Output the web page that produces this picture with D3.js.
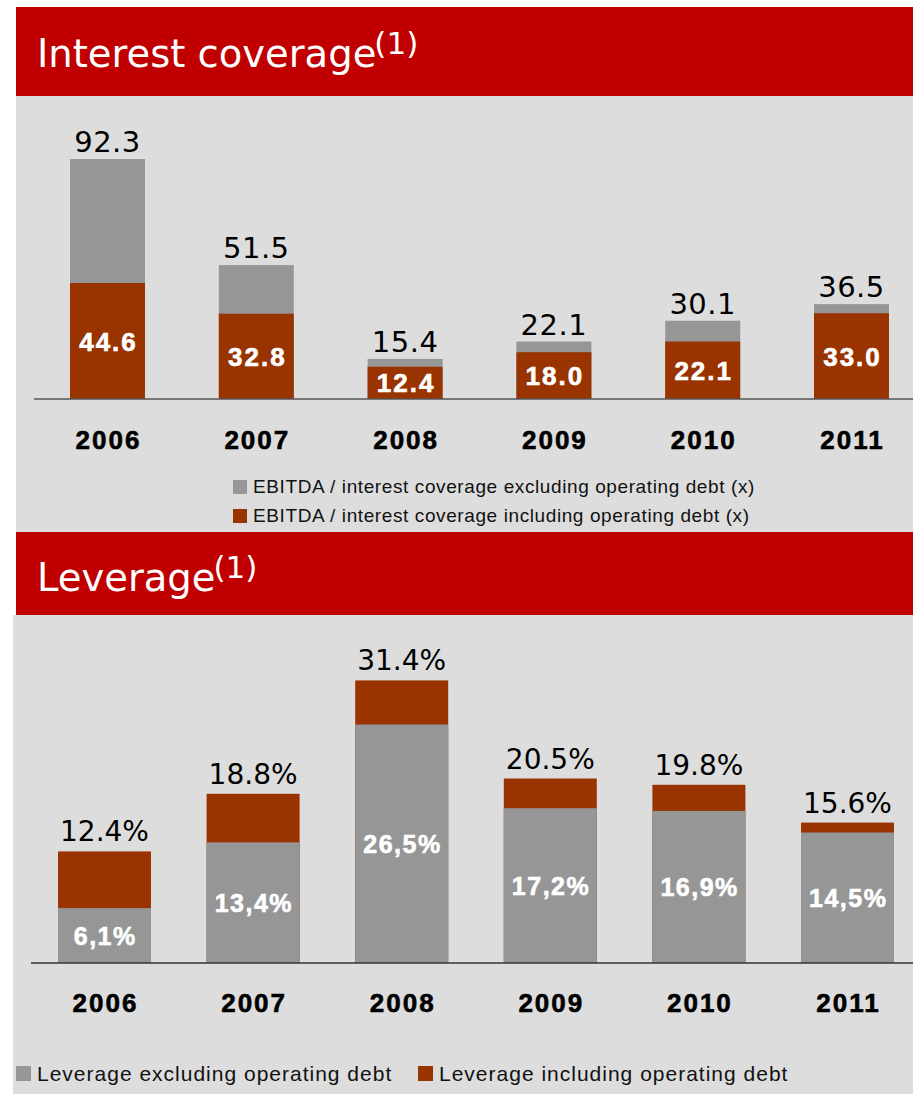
<!DOCTYPE html>
<html>
<head>
<meta charset="utf-8">
<script src="https://cdn.jsdelivr.net/npm/d3@7"></script>
<style>
  body { margin: 0; background: #fff; }
  svg { display: block; }
</style>
</head>
<body>
<svg id="chart" width="913" height="1094"></svg>
<script>
// data
const years = ["2006", "2007", "2008", "2009", "2010", "2011"];

const coverageTotal = [92.3, 51.5, 15.4, 22.1, 30.1, 36.5];   // excluding operating debt
const coverageInc   = [44.6, 32.8, 12.4, 18.0, 22.1, 33.0];   // including operating debt
const coverageLegend = [
    "EBITDA / interest coverage excluding operating debt (x)",
    "EBITDA / interest coverage including operating debt (x)"
];

const leverageExc   = [6.1, 13.4, 26.5, 17.2, 16.9, 14.5];
const leverageTotal = [12.4, 18.8, 31.4, 20.5, 19.8, 15.6];
const leverageLegend = ["Leverage excluding operating debt", "Leverage including operating debt"];

const RED_TITLE = "#c00000";
const PANEL = "#dddddd";
const GREY = "#969696";
const BROWN = "#993300";

const svg = d3.select("#chart");

// panels + title bars
svg.append("rect").attr("x", 16).attr("y", 7).attr("width", 897).attr("height", 89).attr("fill", RED_TITLE);
svg.append("rect").attr("x", 16).attr("y", 96).attr("width", 897).attr("height", 436).attr("fill", PANEL);
svg.append("rect").attr("x", 16).attr("y", 532).attr("width", 897).attr("height", 83).attr("fill", RED_TITLE);
svg.append("rect").attr("x", 13).attr("y", 615).attr("width", 900).attr("height", 479).attr("fill", PANEL);

function title(txt, x, y) {
    let t = svg.append("text").attr("x", x).attr("y", y)
        .style("font-family", "DejaVu Sans").style("font-size", "38.5px").attr("fill", "#fff");
    t.append("tspan").text(txt);
    t.append("tspan").attr("dx", -2).attr("dy", -13).style("font-size", "31px").text("(1)");
}
title("Interest coverage", 37, 67);
title("Leverage", 37, 591);

// bold label helper
function boldText(g, x, y, txt, size, spacing, color) {
    return g.append("text").attr("x", x + spacing / 2).attr("y", y)
        .attr("text-anchor", "middle").style("font-family", "Liberation Sans, Arial").style("font-weight", "bold")
        .style("font-size", size + "px").style("letter-spacing", spacing + "px")
        .attr("fill", color).attr("stroke", color).attr("stroke-width", 0.6)
        .text(txt);
}

// ---- top chart: interest coverage
const x1 = d3.scalePoint().domain(years).range([107.5, 851.5]);
const y1 = d3.scaleLinear().domain([0, 100]).range([399, 139]);
const bw1 = 75;

const g1 = svg.append("g");
years.forEach((yr, i) => {
    let cx = x1(yr);
    g1.append("rect").attr("x", cx - bw1 / 2).attr("y", y1(coverageTotal[i]))
        .attr("width", bw1).attr("height", y1(0) - y1(coverageTotal[i])).attr("fill", GREY);
    g1.append("rect").attr("x", cx - bw1 / 2).attr("y", y1(coverageInc[i]))
        .attr("width", bw1).attr("height", y1(0) - y1(coverageInc[i])).attr("fill", BROWN);

    g1.append("text").attr("x", cx).attr("y", y1(coverageTotal[i]) - 7)
        .attr("text-anchor", "middle").style("font-family", "DejaVu Sans").style("font-size", "29px")
        .style("letter-spacing", "0.5px")
        .attr("fill", "#000").text(coverageTotal[i].toFixed(1));

    let mid = (y1(coverageInc[i]) + y1(0)) / 2;
    boldText(g1, cx, mid + 9.5, coverageInc[i].toFixed(1), 26, 2, "#fff");
    boldText(g1, cx, 449, yr, 26, 2, "#000");
});
g1.append("line").attr("x1", 34).attr("x2", 913).attr("y1", y1(0)).attr("y2", y1(0))
    .attr("stroke", "#555").attr("stroke-width", 1.5);

// legend top
[GREY, BROWN].forEach((c, i) => {
    svg.append("rect").attr("x", 233).attr("y", 480 + i * 29).attr("width", 14).attr("height", 14).attr("fill", c);
    svg.append("text").attr("x", 253).attr("y", 493 + i * 29)
        .style("font-family", "Liberation Sans, Arial").style("font-size", "19px")
        .style("letter-spacing", "0.6px")
        .attr("fill", "#111").text(coverageLegend[i]);
});

// ---- bottom chart: leverage
const x2 = d3.scalePoint().domain(years).range([104.5, 847.5]);
const y2 = d3.scaleLinear().domain([0, 35]).range([963, 648]);
const bw2 = 93;
const pct = v => v.toFixed(1) + "%";
const pctComma = v => v.toFixed(1).replace(".", ",") + "%";

const g2 = svg.append("g");
years.forEach((yr, i) => {
    let cx = x2(yr);
    g2.append("rect").attr("x", cx - bw2 / 2).attr("y", y2(leverageTotal[i]))
        .attr("width", bw2).attr("height", y2(0) - y2(leverageTotal[i])).attr("fill", BROWN);
    g2.append("rect").attr("x", cx - bw2 / 2).attr("y", y2(leverageExc[i]))
        .attr("width", bw2).attr("height", y2(0) - y2(leverageExc[i])).attr("fill", GREY);

    g2.append("text").attr("x", cx).attr("y", y2(leverageTotal[i]) - 10)
        .attr("text-anchor", "middle").style("font-family", "DejaVu Sans").style("font-size", "28px")
        .attr("fill", "#000").text(pct(leverageTotal[i]));

    let mid = (y2(leverageExc[i]) + y2(0)) / 2;
    boldText(g2, cx, mid + 9, pctComma(leverageExc[i]), 25, 1.5, "#fff");
    boldText(g2, cx, 1012, yr, 26, 2, "#000");
});
g2.append("line").attr("x1", 31).attr("x2", 913).attr("y1", y2(0)).attr("y2", y2(0))
    .attr("stroke", "#333").attr("stroke-width", 1.5);

// legend bottom
const legX = [16, 418];
[GREY, BROWN].forEach((c, i) => {
    svg.append("rect").attr("x", legX[i]).attr("y", 1066).attr("width", 15).attr("height", 15).attr("fill", c);
    svg.append("text").attr("x", legX[i] + 21).attr("y", 1081)
        .style("font-family", "Liberation Sans, Arial").style("font-size", "21px")
        .style("letter-spacing", "1px")
        .attr("fill", "#111").text(leverageLegend[i]);
});
</script>
</body>
</html>
